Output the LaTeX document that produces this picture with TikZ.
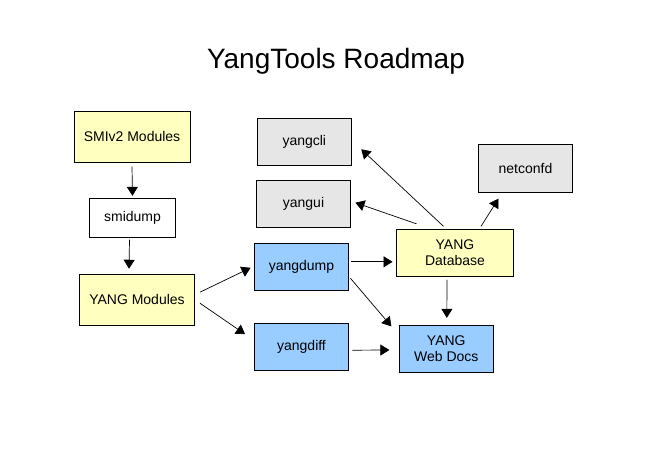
\documentclass[tikz,border=0pt]{standalone}
\usepackage{fontspec}
\setmainfont{Liberation Sans}
\usetikzlibrary{arrows.meta,calc}
\definecolor{ylw}{HTML}{FFFFC0}
\definecolor{gry}{HTML}{E6E6E6}
\definecolor{blu}{HTML}{99CCFF}
\tikzset{
  box/.style={draw=black,line width=0.9pt,inner sep=0pt,align=center,
    font=\fontsize{14}{16.5}\selectfont},
  yb/.style={box,fill=ylw},
  gb/.style={box,fill=gry},
  bb/.style={box,fill=blu},
  wb/.style={box,fill=white},
  arr/.style={line width=0.7pt,-{Triangle[length=9pt,width=11pt]}},
}
\begin{document}
\begin{tikzpicture}[x=1pt,y=-1pt]
\useasboundingbox (0,0) rectangle (658,470);
\fill[white] (0,0) rectangle (658,470);
\node[anchor=base,font=\fontsize{28}{32}\selectfont] (title) at (336,69) {YangTools Roadmap};
\node[yb,minimum width=116pt,minimum height=51pt] (smi) at (132,136.7) {SMIv2 Modules};
\node[wb,minimum width=86pt,minimum height=39pt] (smidump) at (132.5,217.8) {smidump};
\node[yb,minimum width=115pt,minimum height=51pt] (ymod) at (137,299.7) {YANG Modules};
\node[gb,minimum width=94pt,minimum height=47pt] (cli) at (304.3,141.8) {yangcli};
\node[gb,minimum width=94pt,minimum height=47pt] (gui) at (303.5,203.7) {yangui};
\node[bb,minimum width=94pt,minimum height=47pt] (dump) at (301.5,266.8) {yangdump};
\node[bb,minimum width=94pt,minimum height=47pt] (diff) at (301.5,346.7) {yangdiff};
\node[yb,minimum width=117pt,minimum height=47pt] (db) at (455,252.8) {YANG\\Database};
\node[gb,minimum width=94pt,minimum height=48pt] (netconf) at (525.5,168.2) {netconfd};
\node[bb,minimum width=94pt,minimum height=47pt] (web) at (446.3,348.8) {YANG\\Web Docs};
% connectors
\draw[arr] ($(smi.south)+(0,4)$) -- ($(smidump.north)+(0,-2)$);
\draw[arr] ($(smidump.south)+(-3,2)$) -- ($(ymod.north)+(-8,-5)$);
\draw[arr] ($(ymod.east)+(5,-7.5)$) -- ($(dump.west)+(-3.5,1)$);
\draw[arr] ($(ymod.east)+(5,3.5)$) -- ($(diff.west)+(-9,-12.5)$);
\draw[arr] ($(dump.east)+(2.5,-5)$) -- ($(db.west)+(-3.5,9)$);
\draw[arr] ($(dump.east)+(1.5,11.5)$) -- ($(web.north west)+(-7.5,1.5)$);
\draw[arr] ($(diff.east)+(3.5,3.5)$) -- ($(web.west)+(-9.5,1.2)$);
\draw[arr] ($(db.south)+(-8,3)$) -- ($(web.north)+(0.5,-7)$);
\draw[arr] ($(db.north)+(-11.5,-2.5)$) -- ($(cli.east)+(9.5,7.5)$);
\draw[arr] ($(db.north)+(-38.5,-5)$) -- ($(gui.east)+(4.5,-1)$);
\draw[arr] ($(db.north)+(26,-2.5)$) -- ($(netconf.south)+(-27,6)$);
\end{tikzpicture}
\end{document}
